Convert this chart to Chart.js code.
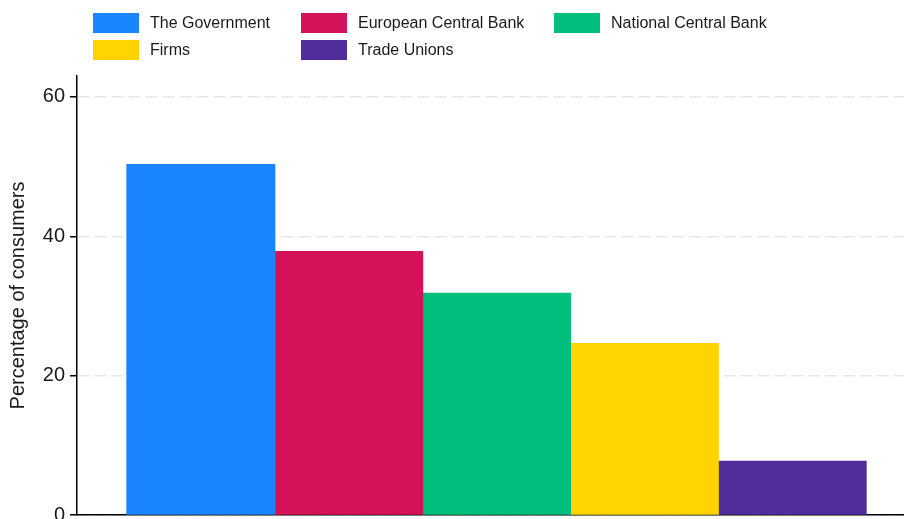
<!doctype html>
<html lang="en">
  <head>
    <meta charset="UTF-8">
    <title>Who is responsible for inflation</title>
    <style>
      body { margin: 0; overflow: hidden; background: #fff; font-family: "Liberation Sans", Arial, sans-serif; }
      #wrap { position: absolute; left: 0; top: 0; width: 916px; height: 540px; }
      #legend {
        position: absolute; left: 93px; top: 13px;
        display: grid; grid-template-columns: 208px 253px auto; row-gap: 7px;
        font-size: 16px; color: #1a1a1a;
      }
      .item { display: flex; align-items: center; height: 20px; white-space: nowrap; }
      .box { width: 46px; height: 20px; margin-right: 11px; }
    </style>
  </head>
  <body>
    <div id="wrap"><canvas id="myChart" width="916" height="540"></canvas></div>
    <div id="legend"></div>

    <script src="https://cdn.jsdelivr.net/npm/chart.js@4.4.1/dist/chart.umd.min.js"></script>
    <script>
    // Data-----
    const actors = ['The Government', 'European Central Bank', 'National Central Bank', 'Firms', 'Trade Unions'];
    const shares = [50.3, 37.8, 31.8, 24.6, 7.7];
    const colors = ['#1A85FF', '#D41159', '#00BF7D', '#FFD400', '#512C9B'];
    const yTicks = [0, 20, 40, 60];
    // Data-----

    const config = {
        type: 'bar',
        data: {
            labels: [''],
            datasets: actors.map((name, i) => ({
                label: name,
                data: [shares[i]],
                backgroundColor: colors[i],
                borderWidth: 0,
                inflateAmount: 0.6, // no white seams between touching bars
                barPercentage: 1,
                categoryPercentage: 0.881
            }))
        },
        options: {
            responsive: false,
            animation: false,
            layout: { padding: { top: 76, left: 0, right: 0, bottom: 25 } },
            plugins: {
                legend: { display: false },
                tooltip: { enabled: false }
            },
            scales: {
                x: {
                    grid: { display: false, drawTicks: false },
                    ticks: { display: false },
                    border: { display: true, color: '#000', width: 1.5 }
                },
                y: {
                    min: 0,
                    max: 63,
                    afterBuildTicks: (scale) => { scale.ticks = yTicks.map(v => ({ value: v })); },
                    afterFit: (scale) => { scale.width = 77; },
                    ticks: {
                        color: '#1a1a1a',
                        padding: 5,
                        font: { family: 'Liberation Sans', size: 20 }
                    },
                    grid: {
                        color: '#e8e8e8',
                        lineWidth: 1.5,
                        tickColor: '#000',
                        tickLength: 7,
                        tickWidth: 1.5,
                        tickBorderDash: []
                    },
                    border: { display: true, color: '#000', width: 1.5, dash: [12, 5] },
                    title: {
                        display: true,
                        text: 'Percentage of consumers',
                        color: '#1a1a1a',
                        padding: { top: 6, bottom: 4 },
                        font: { family: 'Liberation Sans', size: 20 }
                    }
                }
            }
        }
    };

    var myChart = new Chart(document.getElementById('myChart'), config);

    // legend laid out in three columns
    const legend = document.getElementById('legend');
    myChart.data.datasets.forEach(ds => {
        const item = document.createElement('div');
        item.className = 'item';
        const box = document.createElement('span');
        box.className = 'box';
        box.style.background = ds.backgroundColor;
        item.appendChild(box);
        item.appendChild(document.createTextNode(ds.label));
        legend.appendChild(item);
    });
    </script>
  </body>
</html>
